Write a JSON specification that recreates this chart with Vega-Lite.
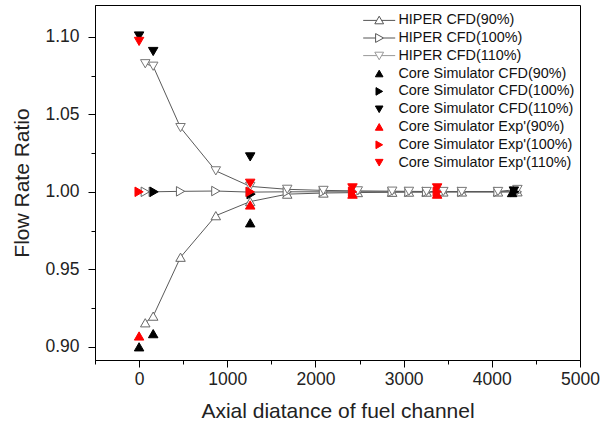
{
  "$schema": "https://vega.github.io/schema/vega-lite/v6.json",
  "width": 485,
  "height": 355,
  "autosize": {"type": "none"},
  "padding": {"left": 95, "top": 5, "right": 33, "bottom": 70},
  "background": "white",
  "config": {
    "font": "Liberation Sans",
    "view": {"stroke": "black", "strokeWidth": 1},
    "axis": {
      "grid": false,
      "domainColor": "black",
      "tickColor": "black",
      "labelColor": "#222",
      "titleColor": "#222",
      "labelFont": "Liberation Sans",
      "titleFont": "Liberation Sans",
      "labelFontSize": 17.5,
      "titleFontSize": 21,
      "titleFontWeight": "normal",
      "labelOverlap": false,
      "labelFlush": false
    },
    "legend": {
      "labelFont": "Liberation Sans",
      "labelFontSize": 14.4,
      "labelColor": "#111",
      "labelLimit": 0
    }
  },
  "data": {
    "values": [
      {"s": "HIPER CFD(90%)", "x": 70, "y": 0.9155},
      {"s": "HIPER CFD(90%)", "x": 160, "y": 0.9198},
      {"s": "HIPER CFD(90%)", "x": 470, "y": 0.9578},
      {"s": "HIPER CFD(90%)", "x": 870, "y": 0.9846},
      {"s": "HIPER CFD(90%)", "x": 1260, "y": 0.9937},
      {"s": "HIPER CFD(90%)", "x": 1680, "y": 0.9985},
      {"s": "HIPER CFD(90%)", "x": 2090, "y": 0.9992},
      {"s": "HIPER CFD(90%)", "x": 2480, "y": 0.9995},
      {"s": "HIPER CFD(90%)", "x": 2870, "y": 0.9997},
      {"s": "HIPER CFD(90%)", "x": 3060, "y": 0.9998},
      {"s": "HIPER CFD(90%)", "x": 3260, "y": 0.9998},
      {"s": "HIPER CFD(90%)", "x": 3450, "y": 0.9999},
      {"s": "HIPER CFD(90%)", "x": 3660, "y": 0.9999},
      {"s": "HIPER CFD(90%)", "x": 4070, "y": 0.9999},
      {"s": "HIPER CFD(90%)", "x": 4290, "y": 1.0},
      {"s": "HIPER CFD(100%)", "x": 70, "y": 1.0},
      {"s": "HIPER CFD(100%)", "x": 160, "y": 1.0},
      {"s": "HIPER CFD(100%)", "x": 470, "y": 1.0003},
      {"s": "HIPER CFD(100%)", "x": 870, "y": 1.0005},
      {"s": "HIPER CFD(100%)", "x": 1260, "y": 0.9998},
      {"s": "HIPER CFD(100%)", "x": 1680, "y": 1.0},
      {"s": "HIPER CFD(100%)", "x": 2090, "y": 1.0},
      {"s": "HIPER CFD(100%)", "x": 2480, "y": 1.0},
      {"s": "HIPER CFD(100%)", "x": 2870, "y": 1.0},
      {"s": "HIPER CFD(100%)", "x": 3060, "y": 1.0},
      {"s": "HIPER CFD(100%)", "x": 3260, "y": 1.0},
      {"s": "HIPER CFD(100%)", "x": 3450, "y": 1.0},
      {"s": "HIPER CFD(100%)", "x": 3660, "y": 1.0},
      {"s": "HIPER CFD(100%)", "x": 4070, "y": 1.0},
      {"s": "HIPER CFD(100%)", "x": 4290, "y": 1.0},
      {"s": "HIPER CFD(110%)", "x": 70, "y": 1.0826},
      {"s": "HIPER CFD(110%)", "x": 160, "y": 1.081},
      {"s": "HIPER CFD(110%)", "x": 470, "y": 1.0414},
      {"s": "HIPER CFD(110%)", "x": 870, "y": 1.0135},
      {"s": "HIPER CFD(110%)", "x": 1260, "y": 1.0035},
      {"s": "HIPER CFD(110%)", "x": 1680, "y": 1.0016},
      {"s": "HIPER CFD(110%)", "x": 2090, "y": 1.0009},
      {"s": "HIPER CFD(110%)", "x": 2480, "y": 1.0006},
      {"s": "HIPER CFD(110%)", "x": 2870, "y": 1.0004},
      {"s": "HIPER CFD(110%)", "x": 3060, "y": 1.0003},
      {"s": "HIPER CFD(110%)", "x": 3260, "y": 1.0002},
      {"s": "HIPER CFD(110%)", "x": 3450, "y": 1.0002},
      {"s": "HIPER CFD(110%)", "x": 3660, "y": 1.0002},
      {"s": "HIPER CFD(110%)", "x": 4070, "y": 1.0002},
      {"s": "HIPER CFD(110%)", "x": 4290, "y": 1.0015},
      {"s": "Core Simulator CFD(90%)", "x": 0, "y": 0.9},
      {"s": "Core Simulator CFD(90%)", "x": 160, "y": 0.9085},
      {"s": "Core Simulator CFD(90%)", "x": 1260, "y": 0.98},
      {"s": "Core Simulator CFD(90%)", "x": 4230, "y": 0.9995},
      {"s": "Core Simulator CFD(100%)", "x": 170, "y": 1.0},
      {"s": "Core Simulator CFD(100%)", "x": 1270, "y": 0.9985},
      {"s": "Core Simulator CFD(100%)", "x": 4260, "y": 1.0},
      {"s": "Core Simulator CFD(110%)", "x": 0, "y": 1.1005},
      {"s": "Core Simulator CFD(110%)", "x": 160, "y": 1.0905},
      {"s": "Core Simulator CFD(110%)", "x": 1260, "y": 1.0225},
      {"s": "Core Simulator CFD(110%)", "x": 4250, "y": 1.0005},
      {"s": "Core Simulator Exp'(90%)", "x": 0, "y": 0.907},
      {"s": "Core Simulator Exp'(90%)", "x": 1260, "y": 0.9915},
      {"s": "Core Simulator Exp'(90%)", "x": 2420, "y": 0.9985},
      {"s": "Core Simulator Exp'(90%)", "x": 3380, "y": 0.9985},
      {"s": "Core Simulator Exp'(100%)", "x": 0, "y": 1.0},
      {"s": "Core Simulator Exp'(100%)", "x": 1260, "y": 1.0},
      {"s": "Core Simulator Exp'(100%)", "x": 2420, "y": 1.0},
      {"s": "Core Simulator Exp'(100%)", "x": 3380, "y": 1.0},
      {"s": "Core Simulator Exp'(110%)", "x": 0, "y": 1.097},
      {"s": "Core Simulator Exp'(110%)", "x": 1260, "y": 1.0055},
      {"s": "Core Simulator Exp'(110%)", "x": 2420, "y": 1.0025},
      {"s": "Core Simulator Exp'(110%)", "x": 3380, "y": 1.0025}
    ]
  },
  "encoding": {
    "x": {
      "field": "x",
      "type": "quantitative",
      "scale": {"domain": [-500, 5000], "nice": false, "zero": false},
      "axis": {
        "title": "Axial diatance of fuel channel",
        "values": [-500, 0, 500, 1000, 1500, 2000, 2500, 3000, 3500, 4000, 4500, 5000],
        "format": "d",
        "labelExpr": "datum.value % 1000 === 0 ? datum.label : ''",
        "tickSize": {"condition": {"test": "datum.value % 1000 !== 0", "value": 4}, "value": 7},
        "labelPadding": 3,
        "titlePadding": 13
      }
    },
    "y": {
      "field": "y",
      "type": "quantitative",
      "scale": {"domain": [0.8915, 1.1205], "nice": false, "zero": false},
      "axis": {
        "title": "Flow Rate Ratio",
        "values": [0.9, 0.925, 0.95, 0.975, 1.0, 1.025, 1.05, 1.075, 1.1],
        "labelExpr": "abs(round(datum.value * 1000) % 50) === 0 ? format(datum.value, '.2f') : ''",
        "tickSize": {"condition": {"test": "abs(round(datum.value * 1000) % 50) !== 0", "value": 4}, "value": 7},
        "labelPadding": 9,
        "titlePadding": 12
      }
    }
  },
  "layer": [
    {
      "transform": [{"filter": "indexof(datum.s, 'HIPER') === 0"}],
      "mark": {"type": "line", "stroke": "#5a5a5a", "strokeWidth": 1},
      "encoding": {"detail": {"field": "s"}}
    },
    {
      "mark": {"type": "point", "filled": true, "size": 90, "strokeWidth": 1, "opacity": 1},
      "encoding": {
        "shape": {
          "field": "s",
          "scale": {
            "domain": ["HIPER CFD(90%)", "HIPER CFD(100%)", "HIPER CFD(110%)", "Core Simulator CFD(90%)", "Core Simulator CFD(100%)", "Core Simulator CFD(110%)", "Core Simulator Exp'(90%)", "Core Simulator Exp'(100%)", "Core Simulator Exp'(110%)"],
            "range": ["triangle-up", "triangle-right", "triangle-down", "triangle-up", "triangle-right", "triangle-down", "triangle-up", "triangle-right", "triangle-down"]
          },
          "legend": null
        },
        "fill": {
          "field": "s",
          "scale": {
            "domain": ["HIPER CFD(90%)", "HIPER CFD(100%)", "HIPER CFD(110%)", "Core Simulator CFD(90%)", "Core Simulator CFD(100%)", "Core Simulator CFD(110%)", "Core Simulator Exp'(90%)", "Core Simulator Exp'(100%)", "Core Simulator Exp'(110%)"],
            "range": ["white", "white", "white", "black", "black", "black", "#ff0000", "#ff0000", "#ff0000"]
          },
          "legend": null
        },
        "stroke": {
          "field": "s",
          "scale": {
            "domain": ["HIPER CFD(90%)", "HIPER CFD(100%)", "HIPER CFD(110%)", "Core Simulator CFD(90%)", "Core Simulator CFD(100%)", "Core Simulator CFD(110%)", "Core Simulator Exp'(90%)", "Core Simulator Exp'(100%)", "Core Simulator Exp'(110%)"],
            "range": ["#666", "#666", "#777", "black", "black", "black", "#ff0000", "#ff0000", "#ff0000"]
          },
          "legend": null
        }
      }
    },
    {
      "mark": {"type": "point", "filled": true, "size": 64, "strokeWidth": 1, "opacity": 0},
      "encoding": {
        "shape": {
          "field": "s",
          "scale": {
            "domain": ["HIPER CFD(90%)", "HIPER CFD(100%)", "HIPER CFD(110%)", "Core Simulator CFD(90%)", "Core Simulator CFD(100%)", "Core Simulator CFD(110%)", "Core Simulator Exp'(90%)", "Core Simulator Exp'(100%)", "Core Simulator Exp'(110%)"],
            "range": [
              "M-4,0.05H-0.6M0.6,0.05H4M0,-1L1.1,0.9L-1.1,0.9Z",
              "M-4,0H-0.9M1.1,0H4M-0.9,-1.1L1.1,0L-0.9,1.1Z",
              "M-4,-0.05H-0.6M0.6,-0.05H4M0,1L1.1,-0.9L-1.1,-0.9Z",
              "M0,-0.85L0.95,0.8L-0.95,0.8Z",
              "M-0.8,-0.95L0.85,0L-0.8,0.95Z",
              "M0,0.85L0.95,-0.8L-0.95,-0.8Z",
              "M0,-0.86L0.96,0.81L-0.96,0.81Z",
              "M-0.81,-0.96L0.86,0L-0.81,0.96Z",
              "M0,0.86L0.96,-0.81L-0.96,-0.81Z"
            ]
          },
          "legend": {
            "title": null,
            "orient": "none",
            "legendX": 277,
            "legendY": 8,
            "padding": 0,
            "symbolSize": 64,
            "symbolOpacity": 1,
            "symbolStrokeWidth": 1,
            "labelOffset": 12,
            "rowPadding": 2.8,
            "labelFontSize": 14.4,
            "encode": {"symbols": {"update": {"opacity": {"value": 1}}}}
          }
        },
        "fill": {
          "field": "s",
          "scale": {
            "domain": ["HIPER CFD(90%)", "HIPER CFD(100%)", "HIPER CFD(110%)", "Core Simulator CFD(90%)", "Core Simulator CFD(100%)", "Core Simulator CFD(110%)", "Core Simulator Exp'(90%)", "Core Simulator Exp'(100%)", "Core Simulator Exp'(110%)"],
            "range": ["white", "white", "white", "black", "black", "black", "#ff0000", "#ff0000", "#ff0000"]
          }
        },
        "stroke": {
          "field": "s",
          "scale": {
            "domain": ["HIPER CFD(90%)", "HIPER CFD(100%)", "HIPER CFD(110%)", "Core Simulator CFD(90%)", "Core Simulator CFD(100%)", "Core Simulator CFD(110%)", "Core Simulator Exp'(90%)", "Core Simulator Exp'(100%)", "Core Simulator Exp'(110%)"],
            "range": ["#555", "#555", "#999", "black", "black", "black", "#ff0000", "#ff0000", "#ff0000"]
          }
        }
      }
    }
  ],
  "resolve": {"scale": {"shape": "independent", "fill": "independent", "stroke": "independent"}}
}
